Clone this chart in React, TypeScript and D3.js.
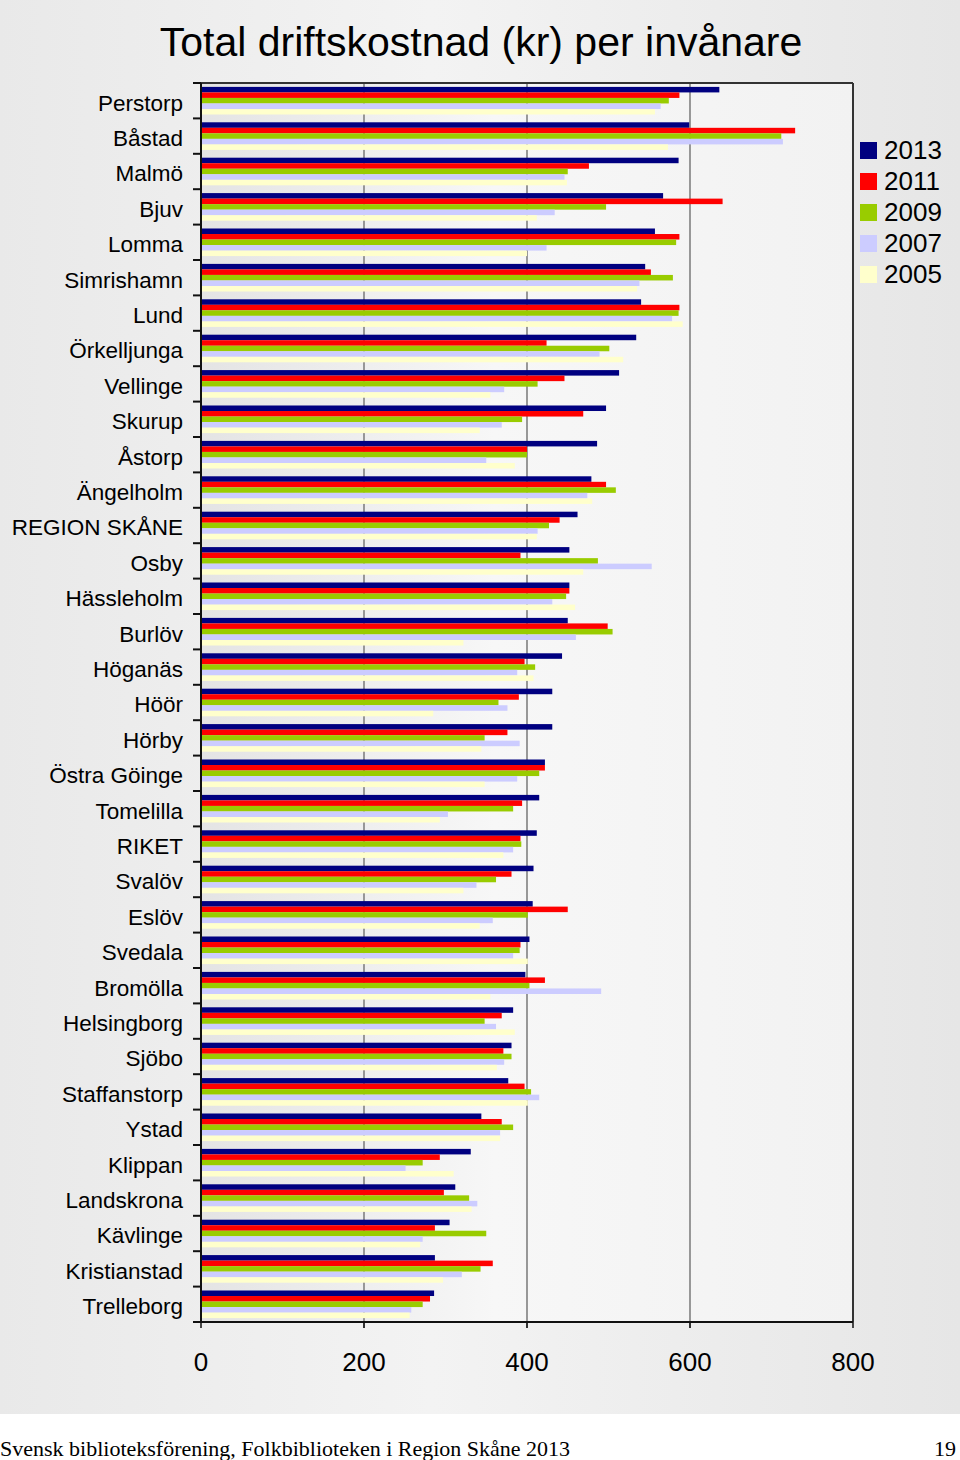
import React from "react";
import * as d3 from "d3";

const categories = [
  "Perstorp", "Båstad", "Malmö", "Bjuv", "Lomma", "Simrishamn", "Lund", "Örkelljunga",
  "Vellinge", "Skurup", "Åstorp", "Ängelholm", "REGION SKÅNE", "Osby", "Hässleholm",
  "Burlöv", "Höganäs", "Höör", "Hörby", "Östra Göinge", "Tomelilla", "RIKET", "Svalöv",
  "Eslöv", "Svedala", "Bromölla", "Helsingborg", "Sjöbo", "Staffanstorp", "Ystad",
  "Klippan", "Landskrona", "Kävlinge", "Kristianstad", "Trelleborg",
];

const years = ["2013", "2011", "2009", "2007", "2005"];
const colors = ["#000080", "#ff0000", "#99cc00", "#ccccff", "#ffffcc"];

const v2013 = [636, 599, 586, 567, 557, 545, 540, 534, 513, 497, 486, 479, 462, 452, 452,
  450, 443, 431, 431, 422, 415, 412, 408, 407, 403, 398, 383, 381, 377, 344, 331, 312, 305, 287, 286];
const v2011 = [587, 729, 476, 640, 587, 552, 587, 424, 446, 469, 400, 497, 440, 392, 452,
  499, 397, 390, 376, 422, 394, 392, 381, 450, 392, 422, 369, 371, 397, 369, 293, 298, 287, 358, 281];
const v2009 = [574, 712, 450, 497, 583, 579, 586, 501, 413, 394, 400, 509, 427, 487, 448,
  505, 410, 365, 348, 415, 383, 393, 362, 401, 391, 403, 348, 381, 405, 383, 272, 329, 350, 343, 272];
const v2007 = [564, 714, 446, 434, 424, 538, 578, 489, 372, 369, 350, 474, 413, 553, 431,
  460, 388, 376, 391, 388, 303, 383, 338, 358, 383, 491, 362, 372, 415, 367, 251, 339, 272, 320, 258];
const v2005 = [557, 573, 449, 412, 400, 535, 591, 518, 355, 342, 385, 480, 412, 469, 459,
  322, 408, 285, 344, 348, 293, 371, 322, 342, 401, 355, 385, 363, 401, 367, 310, 332, 269, 297, 256];

const seriesValues = [v2013, v2011, v2009, v2007, v2005];
const xTicks = [0, 200, 400, 600, 800];
const title = "Total driftskostnad (kr) per invånare";
const footerLeft = "Svensk biblioteksförening, Folkbiblioteken i Region Skåne 2013";
const footerRight = "19";

const W = 960;
const H = 1460;
const plot = { left: 201, right: 853, top: 83, bottom: 1322 };

export default function App() {
  const x = d3.scaleLinear().domain([0, 800]).range([plot.left, plot.right]);
  const y = d3
    .scaleBand<string>()
    .domain(categories)
    .range([plot.top, plot.bottom])
    .paddingInner(0.22)
    .paddingOuter(0.11);
  const inner = d3.scaleBand<string>().domain(years).range([0, y.bandwidth()]);
  const step = y.step();
  const sans = "'Liberation Sans', Arial, sans-serif";
  const serif = "'Liberation Serif', 'Times New Roman', serif";
  const boundary = (k: number) => plot.top + k * step;

  return (
    <svg
      width={W}
      height={H}
      style={{ position: "absolute", left: 0, top: 0, display: "block" }}
    >
      <defs>
        <linearGradient id="bg" x1="0" x2="1" y1="0" y2="0">
          <stop offset="0" stopColor="#e9e9e9" />
          <stop offset="0.45" stopColor="#f3f3f3" />
          <stop offset="1" stopColor="#e6e6e6" />
        </linearGradient>
        <linearGradient id="pbg" x1="0" x2="1" y1="0" y2="0">
          <stop offset="0" stopColor="#e4e4e4" />
          <stop offset="0.45" stopColor="#f7f7f7" />
          <stop offset="1" stopColor="#f2f2f2" />
        </linearGradient>
      </defs>
      <rect x={0} y={0} width={W} height={H} fill="#ffffff" />
      <rect x={0} y={0} width={W} height={1414} fill="url(#bg)" />
      <rect
        x={plot.left}
        y={plot.top}
        width={plot.right - plot.left}
        height={plot.bottom - plot.top}
        fill="url(#pbg)"
      />
      {xTicks.slice(1, -1).map((t) => (
        <line
          key={"g" + t}
          x1={x(t)}
          x2={x(t)}
          y1={plot.top}
          y2={plot.bottom + 6}
          stroke="#808080"
          strokeWidth={1.6}
        />
      ))}
      {categories.map((c, i) => (
        <g key={c}>
          {seriesValues.map((vals, s) => (
            <rect
              key={years[s]}
              x={x(0)}
              y={(y(c) as number) + (inner(years[s]) as number)}
              width={x(vals[i]) - x(0)}
              height={inner.bandwidth()}
              fill={colors[s]}
            />
          ))}
        </g>
      ))}
      <line x1={plot.left} x2={plot.right} y1={plot.top} y2={plot.top} stroke="#333" strokeWidth={2} />
      <line x1={plot.right} x2={plot.right} y1={plot.top} y2={plot.bottom} stroke="#333" strokeWidth={2} />
      <line x1={plot.left} x2={plot.right} y1={plot.bottom} y2={plot.bottom} stroke="#111" strokeWidth={2} />
      <line x1={plot.left} x2={plot.left} y1={plot.top} y2={plot.bottom} stroke="#111" strokeWidth={2} />
      {d3.range(categories.length + 1).map((k) => (
        <line
          key={"t" + k}
          x1={plot.left - 8}
          x2={plot.left}
          y1={boundary(k)}
          y2={boundary(k)}
          stroke="#111"
          strokeWidth={2}
        />
      ))}
      {xTicks.map((t) => (
        <g key={"xt" + t}>
          <line x1={x(t)} x2={x(t)} y1={plot.bottom} y2={plot.bottom + 6} stroke="#111" strokeWidth={1.5} />
          <text
            x={x(t)}
            y={1371}
            textAnchor="middle"
            fontFamily={sans}
            fontSize={26}
            fill="#000"
          >
            {t}
          </text>
        </g>
      ))}
      {categories.map((c) => (
        <text
          key={"l" + c}
          x={183}
          y={(y(c) as number) + y.bandwidth() / 2 + 2}
          dy="0.35em"
          textAnchor="end"
          fontFamily={sans}
          fontSize={22.5}
          fill="#000"
        >
          {c}
        </text>
      ))}
      <text x={481} y={56} textAnchor="middle" fontFamily={sans} fontSize={41} fill="#000">
        {title}
      </text>
      {years.map((yr, s) => (
        <g key={"lg" + yr} transform={`translate(860, ${150 + s * 31})`}>
          <rect x={0} y={-8} width={17} height={17} fill={colors[s]} />
          <text x={24} y={0} dy="0.36em" fontFamily={sans} fontSize={26} fill="#000">
            {yr}
          </text>
        </g>
      ))}
      <text x={0} y={1456} fontFamily={serif} fontSize={22} fill="#000">
        {footerLeft}
      </text>
      <text x={956} y={1456} textAnchor="end" fontFamily={serif} fontSize={22} fill="#000">
        {footerRight}
      </text>
    </svg>
  );
}
